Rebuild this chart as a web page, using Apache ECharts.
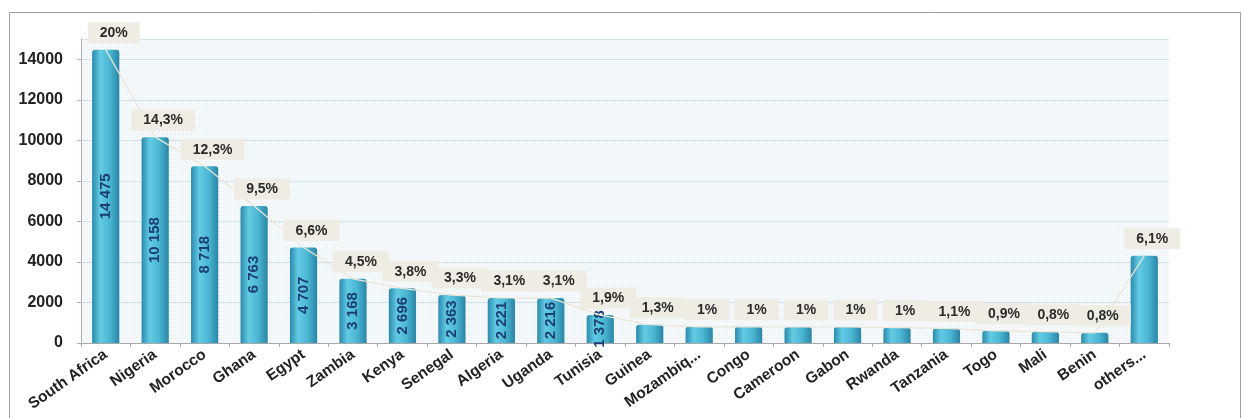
<!DOCTYPE html>
<html>
<head>
<meta charset="utf-8">
<script src="https://cdn.jsdelivr.net/npm/echarts@6/dist/echarts.min.js"></script>
<style>
html,body{margin:0;padding:0;background:#fff;}
#chart{width:1244px;height:418px;}
</style>
</head>
<body>
<div id="chart"></div>
<script>
var categories = ['South Africa','Nigeria','Morocco','Ghana','Egypt','Zambia','Kenya','Senegal','Algeria','Uganda','Tunisia','Guinea','Mozambiq...','Congo','Cameroon','Gabon','Rwanda','Tanzania','Togo','Mali','Benin','others...'];
var values = [14475,10158,8718,6763,4707,3168,2696,2363,2221,2216,1378,900,800,800,790,790,760,720,600,560,500,4300];
var valueLabels = ['14 475','10 158','8 718','6 763','4 707','3 168','2 696','2 363','2 221','2 216','1 378','','','','','','','','','','',''];
var percents = ['20%','14,3%','12,3%','9,5%','6,6%','4,5%','3,8%','3,3%','3,1%','3,1%','1,9%','1,3%','1%','1%','1%','1%','1%','1,1%','0,9%','0,8%','0,8%','6,1%'];
var yTicks = [0,2000,4000,6000,8000,10000,12000,14000];

// dotted background pattern
var pc = document.createElement('canvas');
pc.width = 4; pc.height = 4;
var pctx = pc.getContext('2d');
pctx.fillStyle = '#f7fafd'; pctx.fillRect(0,0,4,4);
pctx.fillStyle = '#dde8f1'; pctx.fillRect(1,1,1,1); pctx.fillRect(3,3,1,1);

var chart = echarts.init(document.getElementById('chart'));
var barColor = new echarts.graphic.LinearGradient(0,0,1,0,[
  {offset:0,color:'#2b8aac'},
  {offset:0.3,color:'#63cbe4'},
  {offset:0.65,color:'#4ab6d3'},
  {offset:1,color:'#2a84a6'}
]);
chart.setOption({
  animation:false,
  backgroundColor:'#fff',
  graphic:[{type:'rect',shape:{x:9.5,y:12.5,width:1231,height:420},style:{fill:'none',stroke:'#a0a0a0',lineWidth:1},silent:true,z:-1}],
  grid:{left:81,right:75,top:39,bottom:75,show:true,backgroundColor:{image:pc,repeat:'repeat'},borderWidth:0},
  xAxis:{
    type:'category',
    data:categories,
    axisLine:{lineStyle:{color:'#a8a8a8'}},
    axisTick:{show:true,length:4,lineStyle:{color:'#a8a8a8'}},
    axisLabel:{interval:0,rotate:35,fontFamily:'Liberation Sans, Arial, sans-serif',fontWeight:'bold',fontSize:15.5,color:'#222',margin:10}
  },
  yAxis:{
    type:'value',min:0,max:15000,interval:2000,
    axisLine:{show:true,lineStyle:{color:'#b0b0b0'}},
    axisTick:{show:true,length:4,lineStyle:{color:'#b0b0b0'}},
    axisLabel:{showMaxLabel:false,fontFamily:'Liberation Sans, Arial, sans-serif',fontWeight:'bold',fontSize:16,color:'#222',margin:18,
      formatter:function(v){return yTicks.indexOf(v)>=0?String(v):'';}},
    splitLine:{show:true,lineStyle:{color:'#d3e1ec',width:1}}
  },
  series:[
    {
      type:'bar',
      data:values,
      barWidth:'55%',
      itemStyle:{color:barColor,borderRadius:[3,3,0,0]},
      label:{
        show:true,position:'inside',rotate:90,
        fontFamily:'Liberation Sans, Arial, sans-serif',
        fontWeight:'bold',fontSize:15,color:'#1b3d70',
        formatter:function(p){return valueLabels[p.dataIndex];}
      },
      z:2
    },
    {
      type:'line',
      data:values,
      symbol:'circle',symbolSize:1,
      itemStyle:{color:'rgba(0,0,0,0)'},
      lineStyle:{color:'#ece5d4',width:1.2},
      label:{
        show:true,position:'top',distance:6,offset:[8,0],
        backgroundColor:'#efece4',padding:[4,12,3,12],
        fontFamily:'Liberation Sans, Arial, sans-serif',fontWeight:'bold',fontSize:14,color:'#2a2a2a',
        formatter:function(p){return percents[p.dataIndex];}
      },
      z:3
    }
  ]
});
</script>
</body>
</html>
